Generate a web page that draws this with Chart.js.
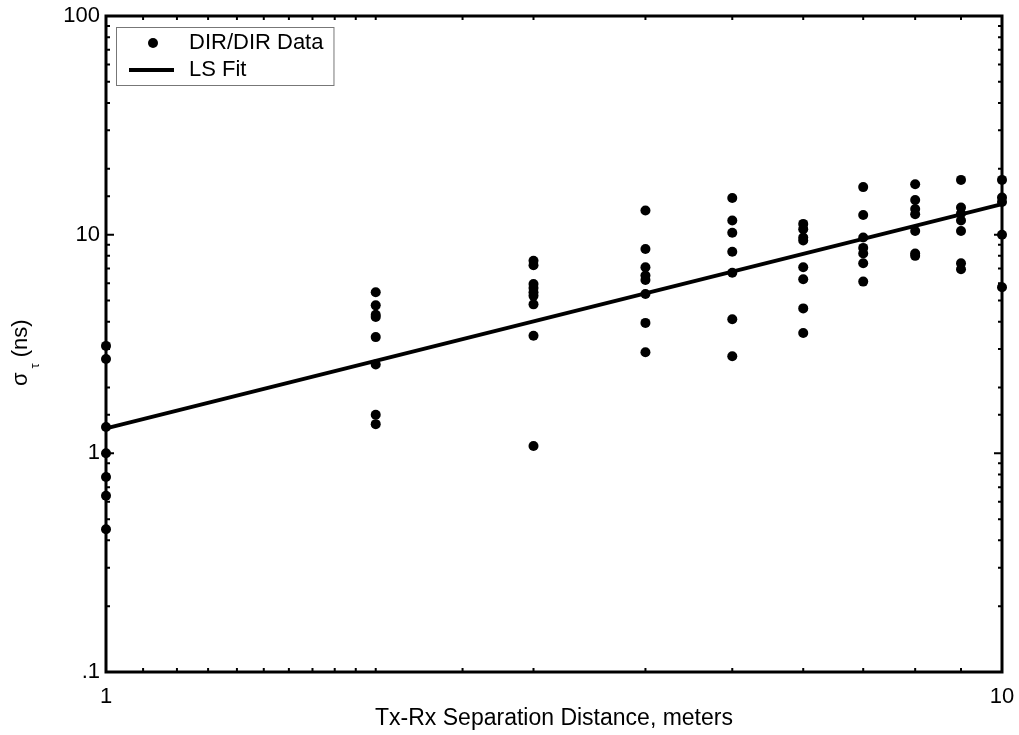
<!DOCTYPE html>
<html>
<head>
<meta charset="utf-8">
<title>RMS delay spread vs separation</title>
<script src="https://cdn.jsdelivr.net/npm/chart.js@4/dist/chart.umd.min.js"></script>
<style>
    html, body { margin: 0; padding: 0; background: #fff; }
    canvas { display: block; }
</style>
</head>
<body>
<canvas id="chartSpread" width="1019" height="735"></canvas>
<script>
// Tx-Rx distances (meters) and measured delay spread (ns) at each distance
const distances = [1, 2, 3, 4, 5, 6, 7, 8, 9, 10];
const spreadAt1 = [3.1, 2.7, 1.32, 1.0, 0.78, 0.64, 0.45];
const spreadAt2 = [5.45, 4.75, 4.3, 4.2, 3.4, 2.55, 1.5, 1.36];
const spreadAt3 = [7.6, 7.25, 5.95, 5.7, 5.45, 5.25, 4.8, 3.45, 1.08];
const spreadAt4 = [12.9, 8.6, 7.1, 6.5, 6.2, 5.35, 3.95, 2.9];
const spreadAt5 = [14.7, 11.6, 10.2, 8.35, 6.7, 4.1, 2.78];
const spreadAt6 = [11.2, 10.6, 9.7, 9.4, 7.1, 6.25, 4.6, 3.55];
const spreadAt7 = [16.5, 12.3, 9.7, 8.7, 8.2, 7.4, 6.1];
const spreadAt8 = [17.0, 14.4, 13.1, 12.4, 10.4, 8.2, 8.0];
const spreadAt9 = [17.8, 13.3, 12.5, 11.6, 10.4, 7.4, 6.95];
const spreadAt10 = [17.8, 14.8, 14.1, 10.0, 5.75];

// least squares fit, end points
const fitX = [1, 10];
const fitY = [1.30, 13.8];

// axis labels
const xTickValues = [1, 10];
const xTickLabels = ['1', '10'];
const yTickValues = [0.1, 1, 10, 100];
const yTickLabels = ['.1', '1', '10', '100'];

const FONT = '"Liberation Sans", Arial, Helvetica, sans-serif';

const spreadColumns = [spreadAt1, spreadAt2, spreadAt3, spreadAt4, spreadAt5,
    spreadAt6, spreadAt7, spreadAt8, spreadAt9, spreadAt10];

function buildScatterPoints() {
    const points = [];
    distances.forEach((d, i) => {
        spreadColumns[i].forEach(v => points.push({ x: d, y: v }));
    });
    return points;
}

function labelFor(value, values, labels) {
    for (let i = 0; i < values.length; i++) {
        if (Math.abs(Math.log10(value) - Math.log10(values[i])) < 1e-6) return labels[i];
    }
    return '';
}

function isDecade(value) {
    return Math.abs(Math.log10(value) - Math.round(Math.log10(value))) < 1e-6;
}

// frame, inward ticks, y title with subscript and legend
const decorPlugin = {
    id: 'decor',
    beforeDatasetsDraw(chart) {
        const { ctx, chartArea: a, scales } = chart;
        ctx.save();
        ctx.strokeStyle = '#000';
        ctx.lineWidth = 3;
        ctx.strokeRect(a.left, a.top, a.right - a.left, a.bottom - a.top);

        ctx.lineWidth = 2;
        scales.y.ticks.forEach(t => {
            const py = scales.y.getPixelForValue(t.value);
            const len = isDecade(t.value) ? 8 : 4;
            ctx.beginPath();
            ctx.moveTo(a.left, py); ctx.lineTo(a.left + len, py);
            ctx.moveTo(a.right, py); ctx.lineTo(a.right - len, py);
            ctx.stroke();
        });
        scales.x.ticks.forEach(t => {
            const px = scales.x.getPixelForValue(t.value);
            const len = isDecade(t.value) ? 8 : 4;
            ctx.beginPath();
            ctx.moveTo(px, a.bottom); ctx.lineTo(px, a.bottom - len);
            ctx.moveTo(px, a.top); ctx.lineTo(px, a.top + len);
            ctx.stroke();
        });
        ctx.restore();
    },
    afterDraw(chart) {
        const ctx = chart.ctx;
        const dsDots = chart.data.datasets[0];
        const dsFit = chart.data.datasets[1];

        // y axis title: sigma with tau subscript, read bottom to top
        ctx.save();
        ctx.translate(27, 386);
        ctx.rotate(-Math.PI / 2);
        ctx.fillStyle = '#000';
        ctx.textBaseline = 'alphabetic';
        ctx.textAlign = 'left';
        ctx.font = '22px ' + FONT;
        ctx.fillText('σ', 0, 0);
        let u = ctx.measureText('σ').width + 4;
        ctx.font = '13px ' + FONT;
        ctx.fillText('τ', u, 12);
        u += ctx.measureText('τ').width + 6;
        ctx.font = '22px ' + FONT;
        ctx.fillText('(ns)', u, 0);
        ctx.restore();

        // legend box
        ctx.save();
        ctx.font = '22px ' + FONT;
        const textX = 189;
        const w = Math.max(ctx.measureText(dsDots.label).width, ctx.measureText(dsFit.label).width);
        const boxL = 116, boxT = 27, boxR = textX + w + 10, boxB = 85;
        ctx.fillStyle = '#fff';
        ctx.fillRect(boxL, boxT, boxR - boxL, boxB - boxT);
        ctx.strokeStyle = '#777';
        ctx.lineWidth = 1;
        ctx.strokeRect(boxL + 0.5, boxT + 0.5, boxR - boxL, boxB - boxT);

        ctx.fillStyle = '#000';
        ctx.beginPath();
        ctx.arc(153, 43, dsDots.pointRadius, 0, Math.PI * 2);
        ctx.fill();
        ctx.strokeStyle = '#000';
        ctx.lineWidth = dsFit.borderWidth;
        ctx.beginPath();
        ctx.moveTo(129, 70); ctx.lineTo(174, 70);
        ctx.stroke();

        ctx.textBaseline = 'middle';
        ctx.textAlign = 'left';
        ctx.fillText(dsDots.label, textX, 43);
        ctx.fillText(dsFit.label, textX, 70);
        ctx.restore();
    }
};

function createChart() {
    const ctx = document.getElementById('chartSpread').getContext('2d');
    return new Chart(ctx, {
        type: 'scatter',
        data: {
            datasets: [{
                label: 'DIR/DIR Data',
                data: buildScatterPoints(),
                pointRadius: 5,
                pointHoverRadius: 5,
                pointBackgroundColor: '#000',
                pointBorderWidth: 0,
                clip: false
            }, {
                label: 'LS Fit',
                type: 'line',
                data: fitX.map((x, i) => ({ x: x, y: fitY[i] })),
                borderColor: '#000',
                borderWidth: 4,
                pointRadius: 0,
                fill: false,
                clip: false
            }]
        },
        options: {
            responsive: false,
            animation: false,
            devicePixelRatio: 1,
            layout: { padding: { top: 16, right: 17, left: 0, bottom: 0 } },
            plugins: {
                legend: { display: false },
                tooltip: { enabled: false }
            },
            scales: {
                x: {
                    type: 'logarithmic',
                    min: 1,
                    max: 10,
                    grid: { display: false, drawTicks: false },
                    border: { display: false },
                    ticks: {
                        autoSkip: false,
                        maxRotation: 0,
                        padding: 12,
                        color: '#000',
                        font: { family: FONT, size: 22 },
                        callback: v => labelFor(v, xTickValues, xTickLabels)
                    },
                    title: {
                        display: true,
                        text: 'Tx-Rx Separation Distance, meters',
                        color: '#000',
                        font: { family: FONT, size: 23 },
                        padding: { top: 0, bottom: 3 }
                    },
                    afterFit: scale => {
                        scale.height = 63;
                        scale.paddingLeft = 0;
                        scale.paddingRight = 0;
                    }
                },
                y: {
                    type: 'logarithmic',
                    min: 0.1,
                    max: 100,
                    grid: { display: false, drawTicks: false },
                    border: { display: false },
                    ticks: {
                        autoSkip: false,
                        padding: 6,
                        color: '#000',
                        font: { family: FONT, size: 22 },
                        callback: v => labelFor(v, yTickValues, yTickLabels)
                    },
                    afterFit: scale => {
                        scale.width = 106;
                        scale.paddingTop = 0;
                        scale.paddingBottom = 0;
                    }
                }
            }
        },
        plugins: [decorPlugin]
    });
}

document.addEventListener('DOMContentLoaded', createChart);
</script>
</body>
</html>
